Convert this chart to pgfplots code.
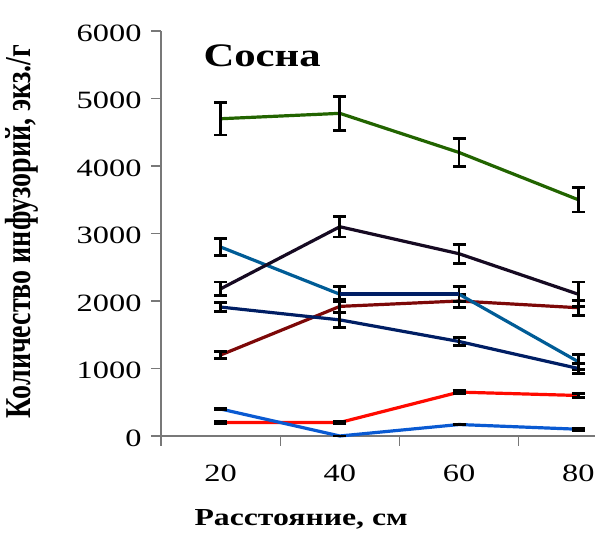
\documentclass[border=0pt]{standalone}
\usepackage{pgfplots}
\pgfplotsset{compat=1.18}
\usepackage{fontspec}
\setmainfont{Liberation Serif}[FakeStretch=1.3]
\newfontfamily\ylabfont{Liberation Serif}[FakeStretch=0.77]
\definecolor{cgreen}{RGB}{34,100,0}
\definecolor{cblack}{RGB}{22,10,34}
\definecolor{cteal}{RGB}{0,92,150}
\definecolor{cnavy}{RGB}{0,30,100}
\definecolor{cdred}{RGB}{125,8,8}
\definecolor{cred}{RGB}{255,10,0}
\definecolor{cblue}{RGB}{10,90,210}
\definecolor{caxis}{RGB}{120,120,120}
\begin{document}
\begin{tikzpicture}
\begin{axis}[
  scale only axis, width=434bp, height=405bp,
  xmin=-0.5, xmax=3.14, ymin=0, ymax=6000,
  axis x line*=bottom, axis y line*=left,
  axis line style={draw=caxis, line width=1.2bp},
  tick align=outside, major tick length=10bp,
  tick style={draw=caxis, line width=1.2bp},
  xtick={-0.5,0.5,1.5,2.5}, xticklabels={},
  extra x ticks={0,1,2,3}, extra x tick labels={20,40,60,80},
  extra x tick style={major tick length=0pt},
  ytick={0,1000,2000,3000,4000,5000,6000},
  /pgf/number format/assume math mode=true,
  /pgf/number format/1000 sep={},
  ticklabel style={font=\fontsize{25}{29}\selectfont},
  xticklabel style={yshift=-25bp},
  yticklabel style={xshift=-6bp, yshift=-2bp},
  xlabel={\fontsize{24.5}{28}\selectfont\bfseries Расстояние, см},
  xlabel style={at={(axis description cs:0.323,-0.207)}, anchor=center},
  ylabel={\fontsize{36.5}{40}\ylabfont\bfseries Количество инфузорий, экз./г},
  ylabel style={at={(axis description cs:-0.32,0.505)}, anchor=center, rotate=0},
  clip=false,
  every axis plot/.append style={line width=3.2bp, mark=none},
  error bars/error bar style={black, line width=2.7bp},
  error bars/error mark options={rotate=90, black, mark size=6.5bp, line width=2.7bp},
]
\addplot[cgreen, error bars/.cd, y dir=both, y explicit] coordinates {
  (0,4700) +- (0,240) (1,4780) +- (0,250) (2,4200) +- (0,210) (3,3500) +- (0,180)};
\addplot[cdred, error bars/.cd, y dir=both, y explicit] coordinates {
  (0,1200) +- (0,50) (1,1920) +- (0,100) (2,2000) +- (0,100) (3,1900) +- (0,110)};
\addplot[cteal, error bars/.cd, y dir=both, y explicit] coordinates {
  (0,2800) +- (0,130) (1,2100) +- (0,110) (2,2100) +- (0,110) (3,1100) +- (0,110)};
\addplot[cnavy, line width=4bp] coordinates {(1,2100) (2,2100)};
\addplot[cnavy, error bars/.cd, y dir=both, y explicit] coordinates {
  (0,1910) +- (0,70) (1,1720) +- (0,110) (2,1400) +- (0,60) (3,1000) +- (0,70)};
\addplot[cblack, error bars/.cd, y dir=both, y explicit] coordinates {
  (0,2180) +- (0,100) (1,3100) +- (0,150) (2,2700) +- (0,140) (3,2100) +- (0,180)};
\addplot[cred, error bars/.cd, y dir=both, y explicit] coordinates {
  (0,200) +- (0,15) (1,200) +- (0,15) (2,650) +- (0,20) (3,600) +- (0,30)};
\addplot[cblue, error bars/.cd, y dir=both, y explicit] coordinates {
  (0,400) +- (0,15) (1,0) +- (0,0) (2,170) +- (0,0) (3,100) +- (0,15)};
\node[font=\fontsize{33}{36}\selectfont\bfseries] at (axis description cs:0.233,0.94) {Сосна};
\end{axis}
\pgfresetboundingbox
\path ([xshift=-161bp,yshift=-97bp]current axis.south west) rectangle ([xshift=3bp,yshift=31bp]current axis.north east);
\end{tikzpicture}
\end{document}
